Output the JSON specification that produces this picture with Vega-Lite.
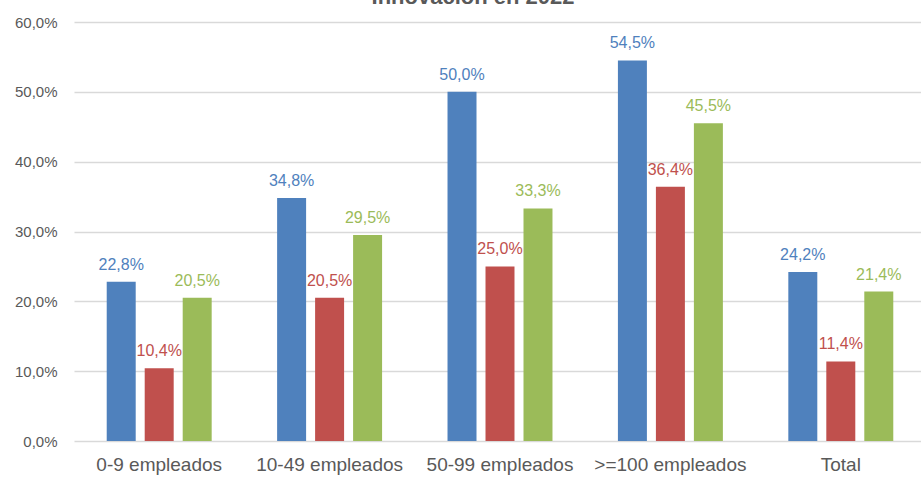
{
  "$schema": "https://vega.github.io/schema/vega-lite/v6.json",
  "width": 852,
  "height": 419,
  "autosize": {"type": "none"},
  "padding": {"left": 74, "top": 22, "right": 0, "bottom": 40},
  "background": "white",
  "title": {
    "text": "Innovación en 2022",
    "font": "Liberation Sans",
    "fontSize": 22,
    "fontWeight": "bold",
    "color": "#595959",
    "anchor": "middle",
    "baseline": "alphabetic",
    "frame": "group",
    "offset": 4,
    "dy": 15,
    "dx": -27
  },
  "config": {
    "locale": {"number": {"decimal": ",", "thousands": ".", "grouping": [3], "currency": ["", " €"]}},
    "view": {"stroke": null},
    "font": "Liberation Sans"
  },
  "data": {
    "values": [
      {"tamano": "0-9 empleados", "serie": "A", "valor": 0.228},
      {"tamano": "0-9 empleados", "serie": "B", "valor": 0.104},
      {"tamano": "0-9 empleados", "serie": "C", "valor": 0.205},
      {"tamano": "10-49 empleados", "serie": "A", "valor": 0.348},
      {"tamano": "10-49 empleados", "serie": "B", "valor": 0.205},
      {"tamano": "10-49 empleados", "serie": "C", "valor": 0.295},
      {"tamano": "50-99 empleados", "serie": "A", "valor": 0.5},
      {"tamano": "50-99 empleados", "serie": "B", "valor": 0.25},
      {"tamano": "50-99 empleados", "serie": "C", "valor": 0.333},
      {"tamano": ">=100 empleados", "serie": "A", "valor": 0.545},
      {"tamano": ">=100 empleados", "serie": "B", "valor": 0.364},
      {"tamano": ">=100 empleados", "serie": "C", "valor": 0.455},
      {"tamano": "Total", "serie": "A", "valor": 0.242},
      {"tamano": "Total", "serie": "B", "valor": 0.114},
      {"tamano": "Total", "serie": "C", "valor": 0.214}
    ]
  },
  "encoding": {
    "x": {
      "field": "tamano",
      "type": "nominal",
      "sort": null,
      "scale": {"paddingInner": 0.384, "paddingOuter": 0.192},
      "axis": {
        "title": null,
        "labelAngle": 0,
        "labelFontSize": 19,
        "labelColor": "#595959",
        "labelPadding": 14,
        "ticks": false,
        "domain": false
      }
    },
    "xOffset": {
      "field": "serie",
      "type": "nominal",
      "scale": {"paddingInner": 0.237, "paddingOuter": 0}
    },
    "y": {
      "field": "valor",
      "type": "quantitative",
      "scale": {"domain": [0, 0.6]},
      "axis": {
        "title": null,
        "format": ".1%",
        "values": [0, 0.1, 0.2, 0.3, 0.4, 0.5, 0.6],
        "labelFontSize": 15,
        "labelColor": "#595959",
        "labelPadding": 17,
        "ticks": false,
        "domain": false,
        "gridColor": "#D9D9D9",
        "gridWidth": 1.5
      }
    },
    "color": {
      "field": "serie",
      "type": "nominal",
      "scale": {"domain": ["A", "B", "C"], "range": ["#4F81BD", "#C0504D", "#9BBB59"]},
      "legend": null
    }
  },
  "layer": [
    {"mark": {"type": "bar"}},
    {
      "mark": {"type": "text", "baseline": "alphabetic", "dy": -12, "fontSize": 16},
      "encoding": {"text": {"field": "valor", "type": "quantitative", "format": ".1%"}}
    }
  ]
}
